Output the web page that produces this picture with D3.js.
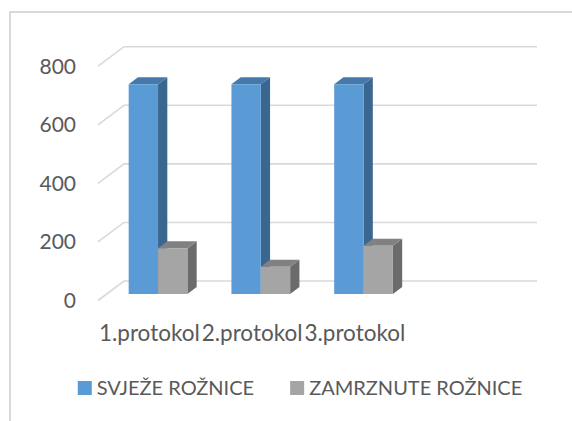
<!DOCTYPE html>
<html>
<head>
<meta charset="utf-8">
<script src="https://cdn.jsdelivr.net/npm/d3@7"></script>
<style>
  body { margin: 0; background: #fff; }
  svg { display: block; font-family: Lato, "Open Sans", sans-serif; }
</style>
</head>
<body>
<div id="chart"></div>
<script>
const categories = ["1.protokol", "2.protokol", "3.protokol"];
const seriesNames = ["SVJEŽE ROŽNICE", "ZAMRZNUTE ROŽNICE"];
const svjeze = [716, 716, 716];
const zamrznute = [156, 93, 165];
const yTicks = [0, 200, 400, 600, 800];

const width = 572, height = 421;
const textColor = "#595959";
const gridColor = "#d9d9d9";
// front, top, side shades per series
const shades = [
  ["#5b9bd5", "#4679ab", "#3a6790"],
  ["#a5a5a5", "#818181", "#6b6b6b"]
];

// oblique depth of the floor (front edge -> back wall)
const DX = 26, DY = -19.5;
const zFront = 0.333, zBack = 0.69;

const svg = d3.select("#chart").append("svg")
  .attr("width", width)
  .attr("height", height);

// chart border (runs off right / bottom)
svg.append("rect")
  .attr("x", 10).attr("y", 12)
  .attr("width", 620).attr("height", 480)
  .attr("fill", "none")
  .attr("stroke", gridColor)
  .attr("stroke-width", 2);

// 4 slots on the axis, last one empty
const x0 = d3.scaleBand()
  .domain([...categories, ""])
  .range([98, 509]);

const x1 = d3.scaleBand()
  .domain(seriesNames)
  .range([0, x0.bandwidth()])
  .paddingInner(0)
  .paddingOuter(0.75);

const y = d3.scaleLinear()
  .domain([0, 800])
  .range([300.5, 66.2]);

const proj = (x, v, z) => [x + z * DX, y(v) + z * DY];

// gridlines: side wall diagonal + back wall
svg.append("g")
  .selectAll("path")
  .data(yTicks)
  .join("path")
  .attr("d", d => {
    const a = proj(x0.range()[0], d, 0);
    const b = proj(x0.range()[0], d, 1);
    const c = proj(x0.range()[1] + 2, d, 1);
    return `M${a}L${b}L${c}`;
  })
  .attr("fill", "none")
  .attr("stroke", gridColor)
  .attr("stroke-width", 1.6);

// y axis labels
svg.append("g")
  .selectAll("text")
  .data(yTicks)
  .join("text")
  .attr("x", 76)
  .attr("y", d => y(d) + 2)
  .attr("text-anchor", "end")
  .attr("dominant-baseline", "middle")
  .attr("fill", textColor)
  .style("font-size", "21px")
  .text(d => d);

// bars
const rows = categories.map((c, i) => ({
  cat: c,
  vals: [svjeze[i], zamrznute[i]]
}));

const poly = pts => "M" + pts.map(p => p.join(",")).join("L") + "Z";

const groups = svg.append("g")
  .selectAll("g")
  .data(rows)
  .join("g");

groups.each(function (row) {
  const g = d3.select(this);
  seriesNames.forEach((s, si) => {
    const v = row.vals[si];
    const xa = x0(row.cat) + x1(s);
    const xb = xa + x1.bandwidth();
    const front = [proj(xa, 0, zFront), proj(xb, 0, zFront), proj(xb, v, zFront), proj(xa, v, zFront)];
    const top = [proj(xa, v, zFront), proj(xb, v, zFront), proj(xb, v, zBack), proj(xa, v, zBack)];
    const side = [proj(xb, 0, zFront), proj(xb, 0, zBack), proj(xb, v, zBack), proj(xb, v, zFront)];
    g.append("path").attr("d", poly(side)).attr("fill", shades[si][2]);
    g.append("path").attr("d", poly(top)).attr("fill", shades[si][1]);
    g.append("path").attr("d", poly(front)).attr("fill", shades[si][0]);
  });
});

// category labels
svg.append("g")
  .selectAll("text")
  .data(categories)
  .join("text")
  .attr("x", d => x0(d) + x0.bandwidth() / 2)
  .attr("y", 341)
  .attr("text-anchor", "middle")
  .attr("fill", textColor)
  .style("font-size", "22.5px")
  .text(d => d);

// legend
const legend = svg.append("g");
const items = legend.selectAll("g")
  .data(seriesNames)
  .join("g");

items.append("rect")
  .attr("width", 14).attr("height", 14)
  .attr("y", 381)
  .attr("fill", (d, i) => shades[i][0]);

items.append("text")
  .attr("x", 19)
  .attr("y", 395)
  .attr("fill", textColor)
  .style("font-size", "20px")
  .text(d => d);

let cx = 0;
const gap = 36;
const widths = [];
items.each(function () {
  widths.push(19 + d3.select(this).select("text").node().getComputedTextLength());
});
const total = d3.sum(widths) + gap * (widths.length - 1);
cx = 300 - total / 2;
items.each(function (d, i) {
  d3.select(this).attr("transform", `translate(${cx},0)`);
  cx += widths[i] + gap;
});
</script>
</body>
</html>
